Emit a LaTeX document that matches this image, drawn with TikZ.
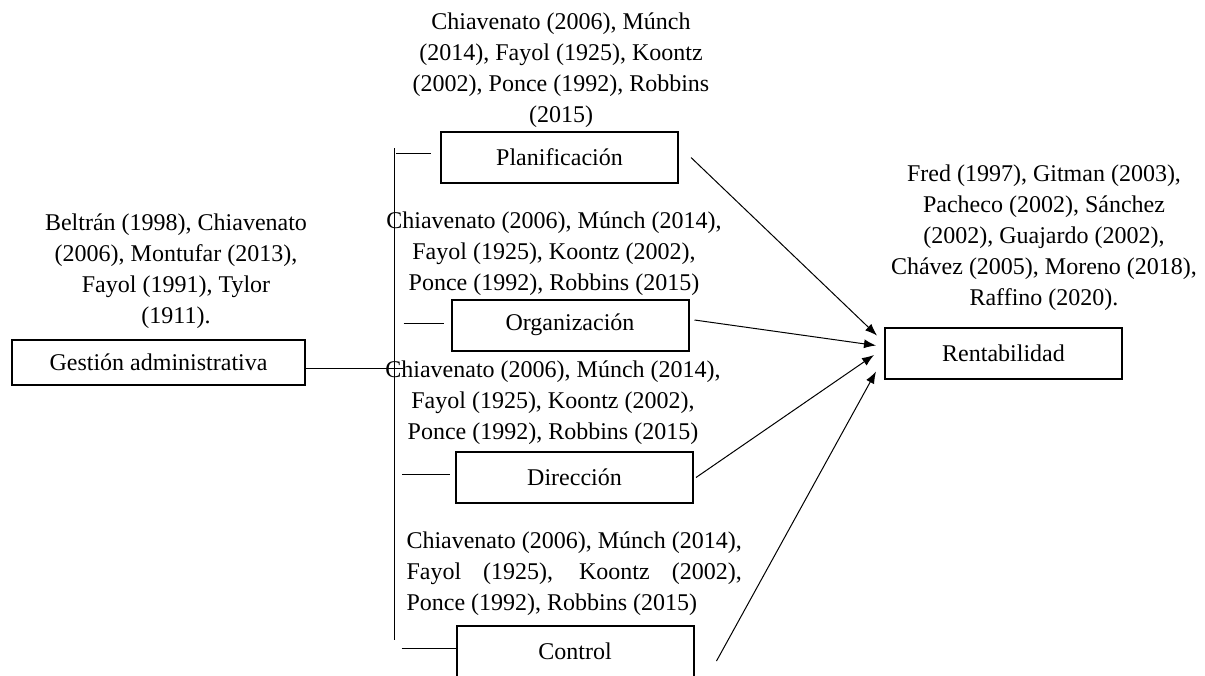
\documentclass[tikz,border=0pt]{standalone}
\usepackage{fontspec}
\setmainfont{Liberation Serif}
\usepackage{tikz}
\usetikzlibrary{arrows.meta}
\newlength\citew

\begin{document}
\settowidth{\citew}{\fontsize{12}{15.5}\selectfont Chiavenato (2006), Múnch (2014),}%
\begin{tikzpicture}[x=0.5pt,y=-0.5pt]

\tikzset{every node/.style = {font=\fontsize{12}{15.5}\selectfont, inner sep=0pt}}
\tikzset{box/.style = {draw, line width=1pt, minimum width=118.5pt, minimum height=25.5pt}}
\tikzset{refs/.style = {align=center}}
\tikzset{every path/.style = {line width=0.5pt}}
\tikzset{arrow/.style = {-{Latex[length=6pt,width=4.5pt]}}}

\useasboundingbox (0,0) rectangle (1205,675);

% boxes
\node[box, minimum width=146.5pt, minimum height=22.5pt] (gest) at (158.5,362.5) {Gestión administrativa};
\node[box] (plan) at (559.5,157.5) {Planificación};
\node[box] (org)  at (570,325) {Organización};
\node[box] (dir)  at (574.5,477.5) {Dirección};
\node[box] (ctrl) at (575,651) {Control};
\node[box] (rent) at (1003.5,353.5) {Rentabilidad};

% references
\node[refs] (gestref) at (176,271) {Beltrán (1998), Chiavenato\\(2006), Montufar (2013),\\Fayol (1991), Tylor\\(1911).};
\node[refs] (planref) at (561,70) {Chiavenato (2006), Múnch\\(2014), Fayol (1925), Koontz\\(2002), Ponce (1992), Robbins\\(2015)};
\node[refs] (orgref) at (554,253.5) {Chiavenato (2006), Múnch (2014),\\Fayol (1925), Koontz (2002),\\Ponce (1992), Robbins (2015)};
\node[refs] (dirref) at (553,402.5) {Chiavenato (2006), Múnch (2014),\\Fayol (1925), Koontz (2002),\\Ponce (1992), Robbins (2015)};
\node[align=left, anchor=west] (ctrlref) at (406,573.5) {Chiavenato (2006), Múnch (2014),\\\makebox[\citew][s]{Fayol (1925), Koontz (2002),}\\Ponce (1992), Robbins (2015)};
\node[refs] (rentref) at (1044,238) {Fred (1997), Gitman (2003),\\Pacheco (2002), Sánchez\\(2002), Guajardo (2002),\\Chávez (2005), Moreno (2018),\\Raffino (2020).};

% bracket
\coordinate (hub) at (403,368);
\coordinate (top) at (394,148);
\coordinate (bot) at (394,640);
\draw (gest.east |- hub) -- (hub);
\draw (top) -- (bot);
\draw ([xshift=-22pt,yshift=2.25pt]plan.west) -- ([xshift=-4.5pt,yshift=2.25pt]plan.west);
\draw ([xshift=-23.5pt,yshift=1pt]org.west) -- ([xshift=-3.5pt,yshift=1pt]org.west);
\draw ([xshift=-26.5pt,yshift=1.75pt]dir.west) -- ([xshift=-2.5pt,yshift=1.75pt]dir.west);
\draw ([xshift=-27pt,yshift=1.5pt]ctrl.west) -- ([yshift=1.5pt]ctrl.west);

%edges
\draw[arrow] ([xshift=6pt]plan.east) -- ([xshift=-3.5pt,yshift=9pt]rent.west);
\draw[arrow] ([xshift=2.5pt,yshift=2.5pt]org.east) -- ([xshift=-4pt,yshift=4pt]rent.west);
\draw[arrow] ([xshift=1pt]dir.east) -- ([xshift=-5pt,yshift=-0.75pt]rent.west);
\draw[arrow] ([xshift=11pt,yshift=-5pt]ctrl.east) -- ([xshift=-4pt,yshift=-9pt]rent.west);
\end{tikzpicture}
\end{document}
